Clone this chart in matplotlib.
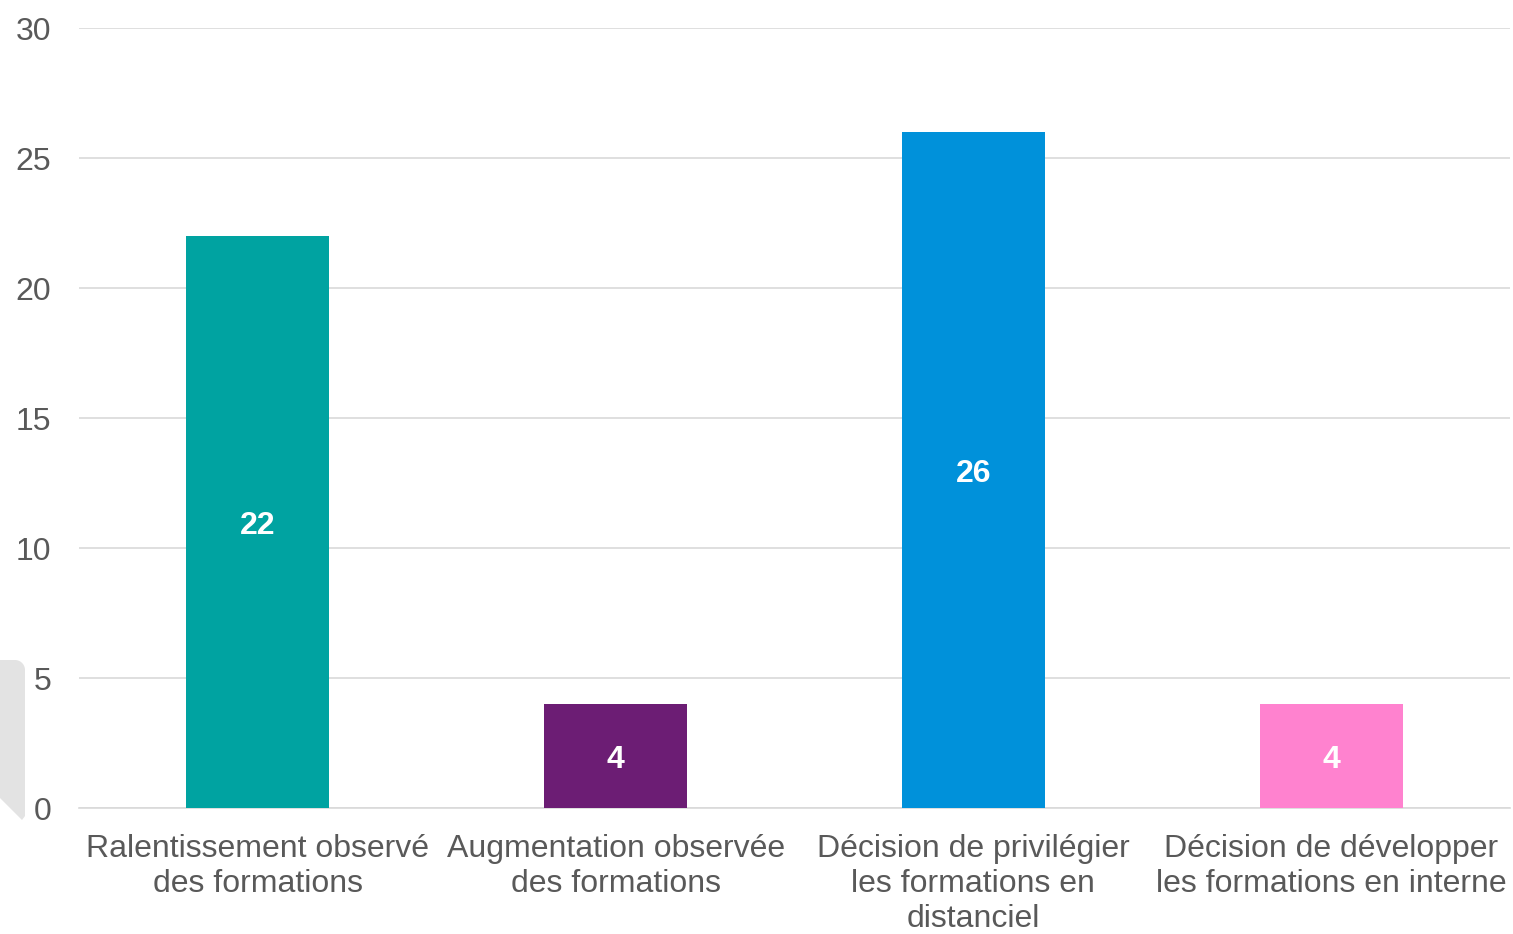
import matplotlib
matplotlib.use('Agg')
from matplotlib import pyplot as plt
from matplotlib.patches import Polygon
import numpy as np

categories = ['Ralentissement observé\ndes formations',
              'Augmentation observée\ndes formations',
              'Décision de privilégier\nles formations en\ndistanciel',
              'Décision de développer\nles formations en interne']
values = [22, 4, 26, 4]
colors = ['#00a3a1', '#6c1d74', '#0091da', '#ff82cf']
yticks = [0, 5, 10, 15, 20, 25, 30]

plt.rcParams['font.family'] = ['Liberation Sans', 'DejaVu Sans']

fig = plt.figure(figsize=(15.13, 9.34), dpi=100)
ax = fig.add_axes([0.0522, 0.1349, 0.9458, 0.8351])

x = np.arange(len(categories))
bars = ax.bar(x, values, width=0.4, color=colors, zorder=3)

for b, v in zip(bars, values):
    ax.text(b.get_x() + b.get_width() / 2, v / 2, str(v), ha='center', va='center_baseline',
            color='white', fontsize=23, fontweight='bold', zorder=4)

ax.set_xlim(-0.5, 3.5)
ax.set_ylim(0, 30)
ax.set_yticks(yticks)
ax.set_xticks(x)
ax.set_xticklabels(categories, fontsize=23, color='#595959', linespacing=1.2)
ax.tick_params(axis='y', labelsize=23, labelcolor='#595959', length=0, pad=20)
ax.tick_params(axis='x', length=0, pad=19)
ax.grid(axis='y', color='#d9d9d9', linewidth=1.2, zorder=0)
for s in ['top', 'right', 'left']:
    ax.spines[s].set_visible(False)
ax.spines['bottom'].set_color('#d9d9d9')
ax.spines['bottom'].set_linewidth(1.2)

# grey tab at the left edge
W, H = 1513, 934
r = 10
arc = [(15 + r * np.sin(t), 670 - r * np.cos(t)) for t in np.linspace(0, np.pi / 2, 12)]
pts = [(0, 660)] + arc + [(25, 816), (22, 820), (0, 798)]
poly = Polygon([(px / W, 1 - py / H) for px, py in pts], closed=True,
               transform=fig.transFigure, facecolor='#e3e3e3', edgecolor='none')
fig.patches.append(poly)

plt.savefig('out.png', dpi=100)
